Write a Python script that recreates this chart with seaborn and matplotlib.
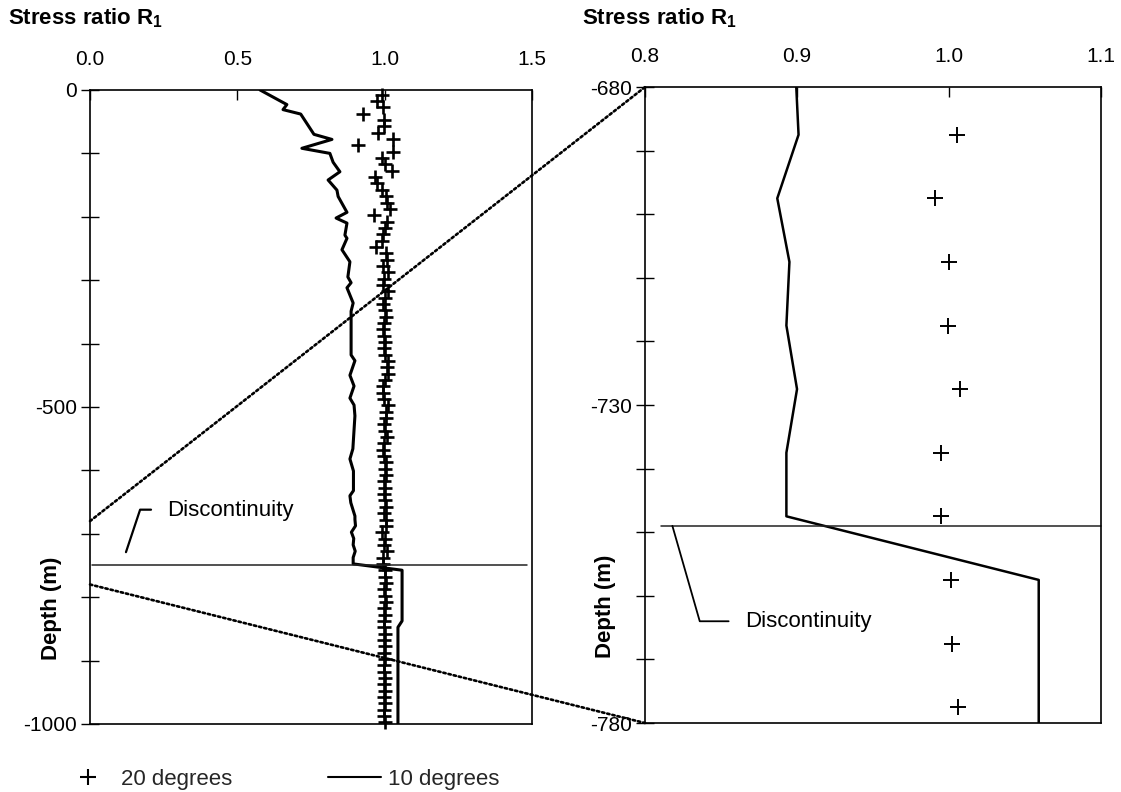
import numpy as np
import pandas as pd
import matplotlib
matplotlib.use("Agg")
import matplotlib.pyplot as plt
import seaborn as sns
from matplotlib.patches import ConnectionPatch
from matplotlib.lines import Line2D
from matplotlib.ticker import MultipleLocator, FormatStrFormatter

sns.set_theme(style="white")
plt.rcParams["font.family"] = ["Liberation Sans", "DejaVu Sans"]
plt.rcParams["axes.unicode_minus"] = False
plt.rcParams["mathtext.default"] = "regular"

# ---------------- data ----------------
# 10 degrees (solid line): depth (m) and stress ratio R1
r10_depth = [0, -19, -23, -31, -38, -70, -78, -92, -100, -114, -129, -142, -158,
             -168, -193, -202, -210, -229, -234, -252, -271, -295, -304, -312,
             -336, -349, -418, -427, -450, -467, -486, -497, -514, -566, -582,
             -601, -632, -640, -651, -672, -677.5, -687.5, -697.5, -707.5,
             -717.5, -727.5, -737.5, -747.5, -757.5, -767.5, -777.5, -837.5,
             -847.5, -1000]
r10_value = [0.577, 0.652, 0.668, 0.655, 0.715, 0.760, 0.821, 0.719, 0.814, 0.825,
             0.848, 0.808, 0.838, 0.842, 0.872, 0.835, 0.872, 0.865, 0.872, 0.855,
             0.882, 0.875, 0.886, 0.872, 0.893, 0.886, 0.886, 0.899, 0.882, 0.896,
             0.882, 0.896, 0.899, 0.892, 0.882, 0.894, 0.894, 0.882, 0.885, 0.899,
             0.899, 0.901, 0.887, 0.895, 0.893, 0.900, 0.893, 0.893, 1.059, 1.059,
             1.059, 1.059, 1.045, 1.045]

# 20 degrees (+ markers), sampled every 10 m
r20_depth = np.arange(-7.5, -1000, -10.0)
r20_value = [0.990, 0.975, 0.995, 0.927, 0.998, 0.998, 0.977, 1.029, 0.909, 1.029,
             0.990, 1.000, 1.025, 0.967, 0.974, 0.990, 1.005, 1.008, 1.018, 0.964,
             1.008, 1.001, 0.995, 0.990, 0.970, 1.005, 1.008, 0.995, 1.010, 0.998,
             0.994, 1.012, 1.001, 0.995, 1.001, 1.005, 0.998, 0.995, 0.998, 1.000,
             0.996, 1.002, 1.010, 1.008, 1.012, 1.000, 0.995, 0.993, 0.998, 1.010,
             1.004, 1.006, 0.998, 1.000, 1.008, 0.996, 0.993, 0.998, 1.004, 1.000,
             1.003, 0.997, 1.002, 0.996, 1.000, 1.006, 0.998, 1.003, 1.005, 0.991,
             1.000, 0.999, 1.007, 0.995, 0.995, 1.001, 1.002, 1.006, 0.998, 1.000,
             1.004, 0.997, 1.002, 0.999, 0.996, 1.000, 0.998, 1.002, 0.997, 1.000,
             0.999, 0.996, 1.001, 0.998, 1.000, 0.997, 1.002, 0.999, 0.998, 1.000]

discontinuity_depth = -749
left_xticks = [0.0, 0.5, 1.0, 1.5]
right_xticks = [0.8, 0.9, 1.0, 1.1]
left_yticks = [0, -500, -1000]
right_yticks = [-680, -730, -780]
legend_labels = ["20 degrees", "10 degrees"]

# ---------------- figure ----------------
fig = plt.figure(figsize=(11.21, 7.92), dpi=100)
ax1 = fig.add_axes([0.0803, 0.0859, 0.3943, 0.8005])
ax2 = fig.add_axes([0.5754, 0.0871, 0.4068, 0.8030])

TICK_FS = 15

def style_axes(ax, xlim, ylim, xticks, yticks, minor_step):
    ax.set_xlim(*xlim)
    ax.set_ylim(*ylim)
    ax.set_xlabel("")
    ax.set_ylabel("")
    ax.xaxis.tick_top()
    ax.set_xticks(xticks)
    ax.xaxis.set_major_formatter(FormatStrFormatter("%.1f"))
    ax.tick_params(axis="x", which="both", direction="in", length=7, width=1,
                   top=True, bottom=False, labeltop=True, labelbottom=False,
                   labelsize=TICK_FS, pad=15, color="black", labelcolor="black")
    ax.set_yticks(yticks)
    ax.yaxis.set_minor_locator(MultipleLocator(minor_step))
    ax.tick_params(axis="y", which="both", direction="inout", length=13, width=1,
                   left=True, right=False, labelsize=TICK_FS, pad=3,
                   color="black", labelcolor="black")
    for s in ax.spines.values():
        s.set_visible(True)
        s.set_color("black")
        s.set_linewidth(1.2)
    ax.grid(False)

# left panel
sns.lineplot(x=r10_value, y=r10_depth, sort=False, estimator=None,
             color="black", linewidth=2.2, ax=ax1)
sns.scatterplot(x=r20_value, y=r20_depth, marker="+", s=95, color="black",
                linewidth=1.9, ax=ax1)
ax1.collections[-1].set_clip_on(False)
style_axes(ax1, (0, 1.5), (-1000, 0), left_xticks, left_yticks, 100)
ax1.set_yticklabels([str(v) for v in left_yticks])

# right panel (zoom)
sns.lineplot(x=r10_value, y=r10_depth, sort=False, estimator=None,
             color="black", linewidth=1.8, ax=ax2)
sns.scatterplot(x=r20_value, y=r20_depth, marker="+", s=120, color="black",
                linewidth=1.4, ax=ax2)
style_axes(ax2, (0.8, 1.1), (-780, -680), right_xticks, right_yticks, 10)
ax2.set_yticklabels([str(v) for v in right_yticks])

# discontinuity annotations
ax1.plot([0.007, 1.483], [discontinuity_depth, discontinuity_depth], color="#222222", lw=1.1)
ax1.plot([0.122, 0.170, 0.207], [-729, -662, -662], color="black", lw=1.6)
ax1.text(0.261, -664, "Discontinuity", fontsize=16, va="center", ha="left", color="black")

ax2.plot([0.8105, 1.1], [discontinuity_depth, discontinuity_depth], color="#222222", lw=1.1,
         clip_on=False)
ax2.plot([0.818, 0.836, 0.855], [discontinuity_depth, -764, -764], color="black", lw=1.3)
ax2.text(0.866, -764, "Discontinuity", fontsize=16, va="center", ha="left", color="black")

# axis titles
for ax in (ax1, ax2):
    ax.text(-0.087, 0.183, "Depth (m)", transform=ax.transAxes, rotation=90,
            fontsize=16, fontweight="bold", ha="center", va="center", color="black")
fig.text(8 / 1121, 1 - 18 / 792, r"Stress ratio R$_1$", fontsize=16, fontweight="bold",
         ha="left", va="center", color="black")
fig.text(582 / 1121, 1 - 18 / 792, r"Stress ratio R$_1$", fontsize=16, fontweight="bold",
         ha="left", va="center", color="black")

# zoom connector lines (dotted)
for d in (-680, -780):
    con = ConnectionPatch(xyA=(0.0, d), coordsA=ax1.transData,
                          xyB=(0.8, d), coordsB=ax2.transData,
                          linestyle=(0, (0.9, 1.1)), color="black", lw=1.9)
    fig.add_artist(con)

# legend
handles = [Line2D([], [], marker="+", ls="none", color="black", ms=11, mew=1.5),
           Line2D([], [], color="black", lw=1.5)]
fig.legend(handles, legend_labels, loc="center left", bbox_to_anchor=(61 / 1121, 1 - 779 / 792),
           ncol=2, frameon=False, fontsize=16, handlelength=2.4, handletextpad=0.3,
           columnspacing=4.3, borderpad=0, borderaxespad=0)

fig.savefig("out.png", dpi=100)
